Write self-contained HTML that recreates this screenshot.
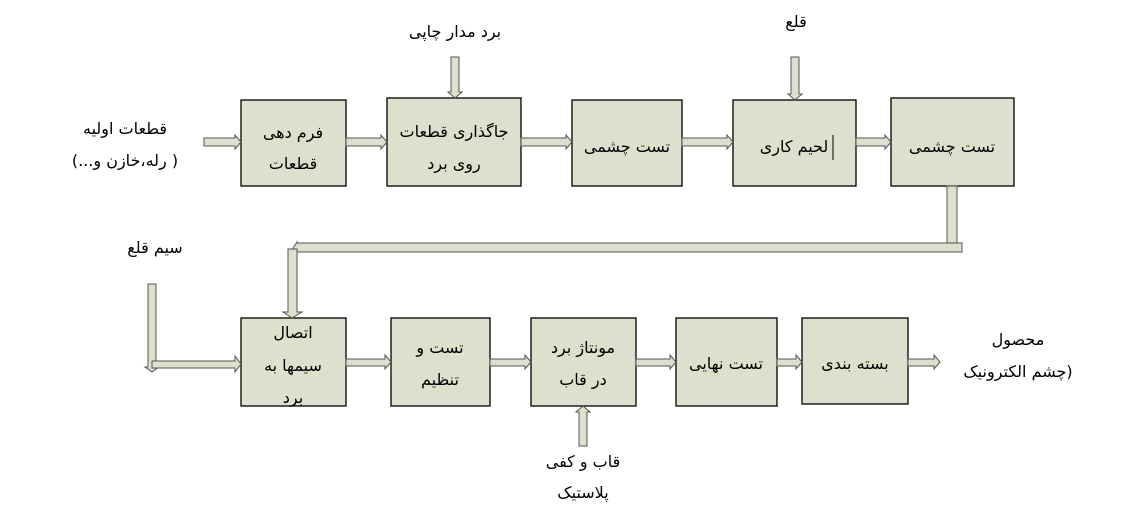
<!DOCTYPE html>
<html><head><meta charset="utf-8"><style>
body{margin:0;background:#fff;}
svg{display:block}
text{font-family:"DejaVu Sans","Liberation Sans",sans-serif;font-size:16px;fill:#000;text-anchor:middle;direction:rtl}
.b{fill:#dde0cc;stroke:#000;stroke-width:1.3}
.a{fill:#dde0cc;stroke:#555;stroke-width:1}
</style></head><body>
<svg width="1141" height="531" viewBox="0 0 1141 531">
<rect class="b" x="241" y="100" width="105" height="86"/>
<rect class="b" x="387" y="98" width="134" height="88"/>
<rect class="b" x="572" y="100" width="110" height="86"/>
<rect class="b" x="733" y="100" width="123" height="86"/>
<rect class="b" x="891" y="98" width="123" height="88"/>
<rect class="b" x="241" y="318" width="105" height="88"/>
<rect class="b" x="391" y="318" width="99" height="88"/>
<rect class="b" x="531" y="318" width="105" height="88"/>
<rect class="b" x="676" y="318" width="101" height="88"/>
<rect class="b" x="802" y="318" width="106" height="86"/>
<polygon class="a" points="204,138 235,138 235,135 241,142 235,149 235,146 204,146"/>
<polygon class="a" points="346,138 381,138 381,135 387,142 381,149 381,146 346,146"/>
<polygon class="a" points="521,138 566,138 566,135 572,142 566,149 566,146 521,146"/>
<polygon class="a" points="682,138 727,138 727,135 733,142 727,149 727,146 682,146"/>
<polygon class="a" points="856,138 885,138 885,135 891,142 885,149 885,146 856,146"/>
<polygon class="a" points="451,57 459,57 459,92 462,92 455,98 448,92 451,92"/>
<polygon class="a" points="791,57 799,57 799,94 802,94 795,100 788,94 791,94"/>
<polygon class="a" points="947,186 957,186 957,243 962,243 952,250 942,243 947,243"/>
<polygon class="a" points="962,243 962,252 297,252 297,250 292,250 297,242 297,243"/>
<polygon class="a" points="288,249 297,249 297,312 302,312 292,318 283,312 288,312"/>
<polygon class="a" points="148,284 156,284 156,367 159,367 152,372 145,367 148,367"/>
<polygon class="a" points="152,361 235,361 235,356 241,364 235,372 235,368 152,368"/>
<polygon class="a" points="346,359 385,359 385,355 391,362 385,369 385,366 346,366"/>
<polygon class="a" points="490,359 525,359 525,355 531,362 525,369 525,366 490,366"/>
<polygon class="a" points="636,359 670,359 670,355 676,362 670,369 670,366 636,366"/>
<polygon class="a" points="777,359 796,359 796,355 802,362 796,369 796,366 777,366"/>
<polygon class="a" points="908,359 934,359 934,355 940,362 934,369 934,366 908,366"/>
<polygon class="a" points="579,446 587,446 587,412 590,412 583,406 576,412 579,412"/>
<text x="455" y="37">برد مدار چاپی</text>
<text x="796" y="27">قلع</text>
<text x="125" y="134">قطعات اولیه</text>
<text x="125" y="166">( رله،خازن و...)</text>
<text x="293" y="138">فرم دهی</text>
<text x="293" y="169">قطعات</text>
<text x="454" y="137">جاگذاری قطعات</text>
<text x="454" y="169">روی برد</text>
<text x="627" y="152">تست چشمی</text>
<text x="794" y="152">لحیم کاری</text>
<line x1="833" y1="135" x2="833" y2="160" stroke="#000" stroke-width="1"/>
<text x="952" y="152">تست چشمی</text>
<text x="155" y="253">سیم قلع</text>
<text x="293" y="338">اتصال</text>
<text x="293" y="371">سیمها به</text>
<text x="293" y="403">برد</text>
<text x="440" y="353">تست و</text>
<text x="440" y="385">تنظیم</text>
<text x="583" y="353">مونتاژ برد</text>
<text x="583" y="385">در قاب</text>
<text x="726" y="369">تست نهایی</text>
<text x="855" y="369">بسته بندی</text>
<text x="1018" y="345">محصول</text>
<text x="1018" y="377">(چشم الکترونیک</text>
<text x="583" y="467">قاب و کفی</text>
<text x="583" y="498">پلاستیک</text>
</svg>
</body></html>
